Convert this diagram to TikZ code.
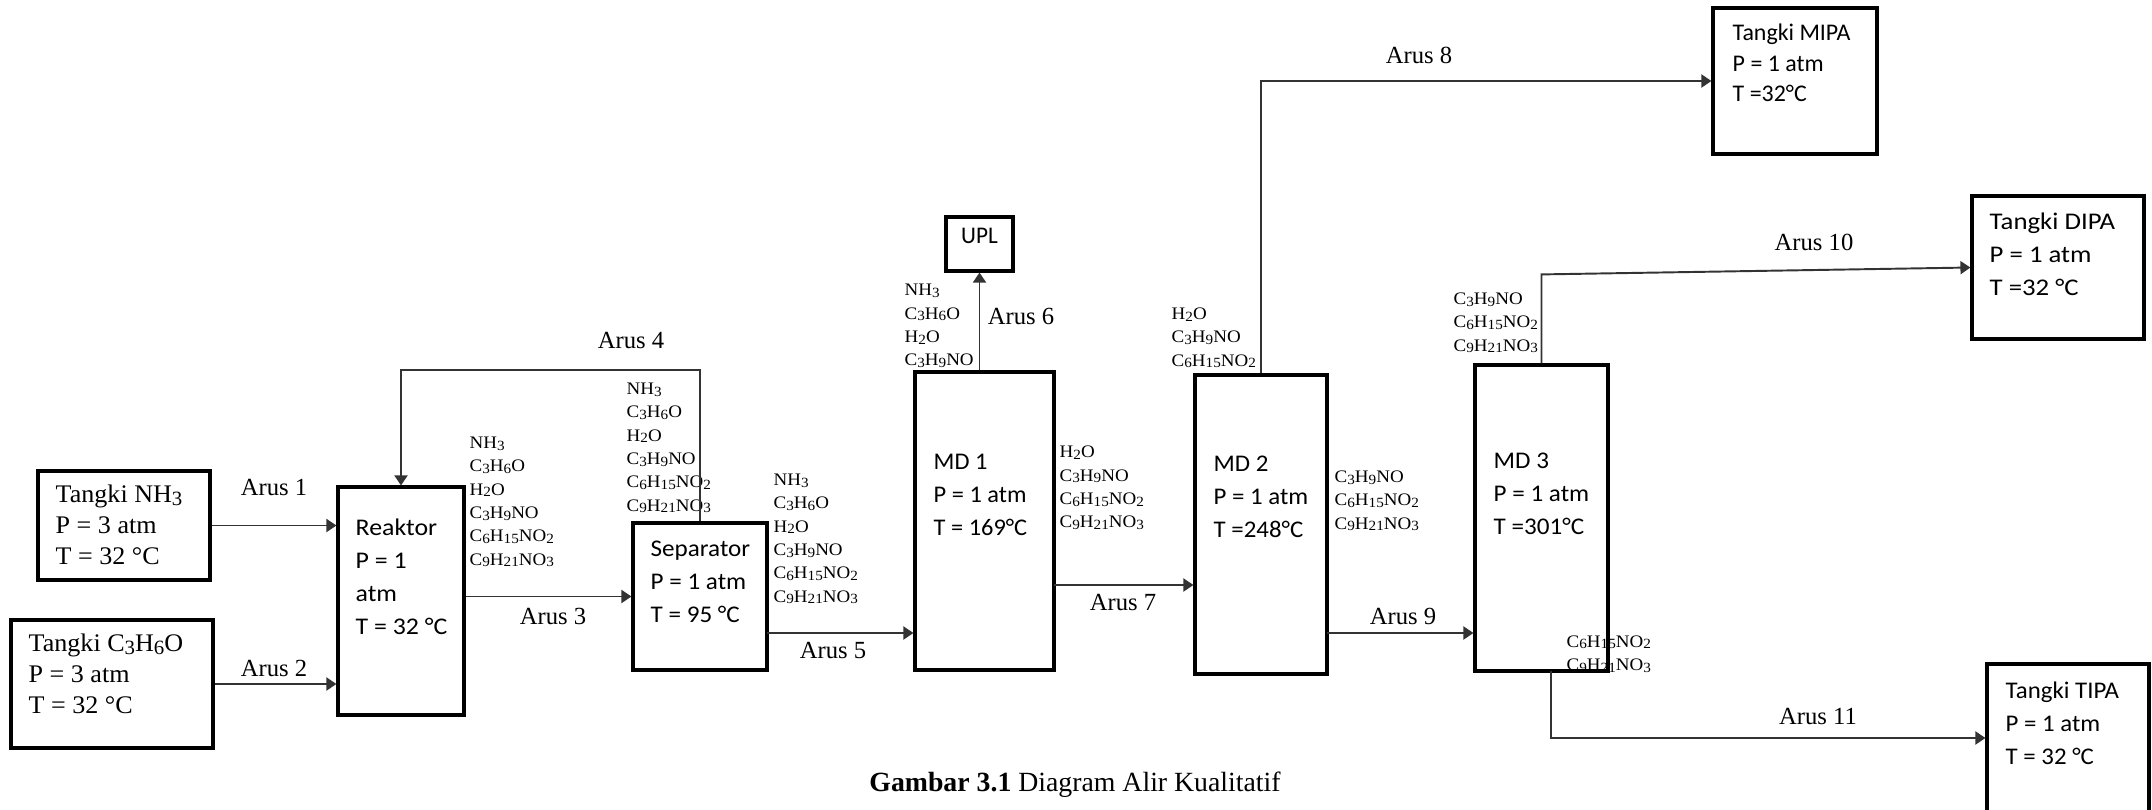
\documentclass[tikz,border=0pt]{standalone}
\usepackage{fontspec}
\setmainfont{Liberation Serif}
\newfontfamily\calibri{Carlito}
\usepackage{tikz}
\usetikzlibrary{arrows.meta,positioning,calc,fit}
\newcommand{\sbk}[1]{\raisebox{-0.2ex}{\scalebox{0.8}{#1}}}
\tikzset{
  >={Triangle[length=1mm,width=1.3mm]},
  % unit proses
  unit/.style={draw=black,line width=0.9pt,inner sep=0pt},
  isi/.style={anchor=west,align=left,inner sep=0pt,
              font=\calibri\addfontfeature{FakeStretch=#1}\fontsize{6.8}{9.4}\selectfont},
  isi/.default=1.05,
  isit/.style={anchor=west,align=left,inner sep=0pt,
               font=\addfontfeature{FakeStretch=1.03}\fontsize{7.2}{8.8}\selectfont},
  komp/.style={anchor=west,align=left,inner sep=0pt,
               font=\addfontfeature{FakeStretch=1.08}\fontsize{5}{6.63}\selectfont},
  % aliran
  aliran/.style={->,draw=black!80,line width=0.55pt},
  lbl/.style={font=\fontsize{7}{8}\selectfont,inner sep=1pt},
}

\begin{document}
\begin{tikzpicture}[x=0.01cm,y=-0.01cm]
\useasboundingbox (0,0) rectangle (2152,809);
  % daftar komponen tiap arus
  \node[komp] (k3) at (469,502) {NH\sbk{3}\\C\sbk{3}H\sbk{6}O\\H\sbk{2}O\\C\sbk{3}H\sbk{9}NO\\C\sbk{6}H\sbk{15}NO\sbk{2}\\C\sbk{9}H\sbk{21}NO\sbk{3}};
  \node[komp] (k4) at (626,448) {NH\sbk{3}\\C\sbk{3}H\sbk{6}O\\H\sbk{2}O\\C\sbk{3}H\sbk{9}NO\\C\sbk{6}H\sbk{15}NO\sbk{2}\\C\sbk{9}H\sbk{21}NO\sbk{3}};
  \node[komp] (k5) at (773,539) {NH\sbk{3}\\C\sbk{3}H\sbk{6}O\\H\sbk{2}O\\C\sbk{3}H\sbk{9}NO\\C\sbk{6}H\sbk{15}NO\sbk{2}\\C\sbk{9}H\sbk{21}NO\sbk{3}};
  \node[komp] (k6) at (904,326) {NH\sbk{3}\\C\sbk{3}H\sbk{6}O\\H\sbk{2}O\\C\sbk{3}H\sbk{9}NO};
  \node[komp] (k7) at (1059,488) {H\sbk{2}O\\C\sbk{3}H\sbk{9}NO\\C\sbk{6}H\sbk{15}NO\sbk{2}\\C\sbk{9}H\sbk{21}NO\sbk{3}};
  \node[komp] (k8) at (1171,338) {H\sbk{2}O\\C\sbk{3}H\sbk{9}NO\\C\sbk{6}H\sbk{15}NO\sbk{2}};
  \node[komp] (k9) at (1334,501) {C\sbk{3}H\sbk{9}NO\\C\sbk{6}H\sbk{15}NO\sbk{2}\\C\sbk{9}H\sbk{21}NO\sbk{3}};
  \node[komp] (k10) at (1453,323) {C\sbk{3}H\sbk{9}NO\\C\sbk{6}H\sbk{15}NO\sbk{2}\\C\sbk{9}H\sbk{21}NO\sbk{3}};
  \node[komp] (k11) at (1566,654) {C\sbk{6}H\sbk{15}NO\sbk{2}\\C\sbk{9}H\sbk{21}NO\sbk{3}};
  % unit proses
  \node[unit,fit={(38,471) (210,580)}] (tnh3) {};
  \node[unit,fit={(11,620) (213,748)}] (tc3h6o) {};
  \node[unit,fit={(338,487) (464,715)}] (reaktor) {};
  \node[unit,fit={(633,523) (767,670)}] (sep) {};
  \node[unit,fit={(915,372) (1054,670)}] (md1) {};
  \node[unit,fit={(946,217) (1013,271)},
        font=\calibri\addfontfeature{FakeStretch=0.97}\fontsize{6.8}{8}\selectfont] (upl) {UPL};
  \node[unit,fit={(1195,375) (1327,674)}] (md2) {};
  \node[unit,fit={(1475,365) (1608,671)}] (md3) {};
  \node[unit,fit={(1713,8) (1877,154)}] (mipa) {};
  \node[unit,fit={(1972,196) (2144,339)}] (dipa) {};
  \node[unit,fit={(1987,664) (2149,812)}] (tipa) {};
  % isi kotak
  \node[isit] (tnh3-t) at (55,525) {Tangki NH\sbk{3}\\P = 3 atm\\T = 32 °C};
  \node[isit] (tc3h6o-t) at (28,674) {Tangki C\sbk{3}H\sbk{6}O\\P = 3 atm\\T = 32 °C};
  \node[isi=1.08] (reaktor-t) at (355,577) {Reaktor\\P = 1\\atm\\T = 32 °C};
  \node[isi] (sep-t) at (650,582) {Separator\\P = 1 atm\\T = 95 °C};
  \node[isi=1.02] (md1-t) at (933,495) {MD 1\\P = 1 atm\\T = 169°C};
  \node[isi=1.04] (md2-t) at (1213,497) {MD 2\\P = 1 atm\\T =248°C};
  \node[isi] (md3-t) at (1493,494) {MD 3\\P = 1 atm\\T =301°C};
  \node[isi=1.0,font=\calibri\fontsize{6.8}{8.6}\selectfont] (mipa-t) at (1732,63) {Tangki MIPA\\P = 1 atm\\T =32°C};
  \node[isi=1.12] (dipa-t) at (1989,254) {Tangki DIPA\\P = 1 atm\\T =32 °C};
  \node[isi=1.04] (tipa-t) at (2005,723) {Tangki TIPA\\P = 1 atm\\T = 32 °C};
  % aliran
  \coordinate (a5) at (767,633);
  \coordinate (a7) at (1054,585);
  \coordinate (a9) at (1327,633);
  \coordinate (a11) at (1551,671);
  \draw[aliran] (tnh3.east) -- (tnh3.east -| reaktor.west);
  \draw[aliran] (tc3h6o.east) -- (tc3h6o.east -| reaktor.west);
  \draw[aliran] (reaktor.east |- sep.west) -- (sep.west);
  \draw[aliran] (sep.north) -- ++(0,-151) -| (reaktor.north);
  \draw[aliran] (a5) -- (a5 -| md1.west);
  \draw[aliran] (md1.north -| upl.south) -- (upl.south);
  \draw[aliran] (a7) -- (a7 -| md2.west);
  \draw[aliran] (md2.north) |- (mipa.west);
  \draw[aliran] (a9) -- (a9 -| md3.west);
  \draw[aliran] (md3.north) -- ++(0,-89) -- (dipa.west);
  \draw[aliran] (a11) |- (tipa.west);
  % nama arus
  \node[lbl] (l1) at (274,487) {Arus 1};
  \node[lbl] (l2) at (274,668) {Arus 2};
  \node[lbl] (l3) at (553,616) {Arus 3};
  \node[lbl] (l4) at (631,340) {Arus 4};
  \node[lbl] (l5) at (833,650) {Arus 5};
  \node[lbl] (l6) at (1021,316) {Arus 6};
  \node[lbl] (l7) at (1123,602) {Arus 7};
  \node[lbl] (l8) at (1419,55) {Arus 8};
  \node[lbl] (l9) at (1403,616) {Arus 9};
  \node[lbl] (l10) at (1814,242) {Arus 10};
  \node[lbl] (l11) at (1818,716) {Arus 11};
  \node[font=\fontsize{7.9}{9}\selectfont] (judul) at (1075,785) {\textbf{Gambar 3.1} Diagram Alir Kualitatif};
\end{tikzpicture}
\end{document}
